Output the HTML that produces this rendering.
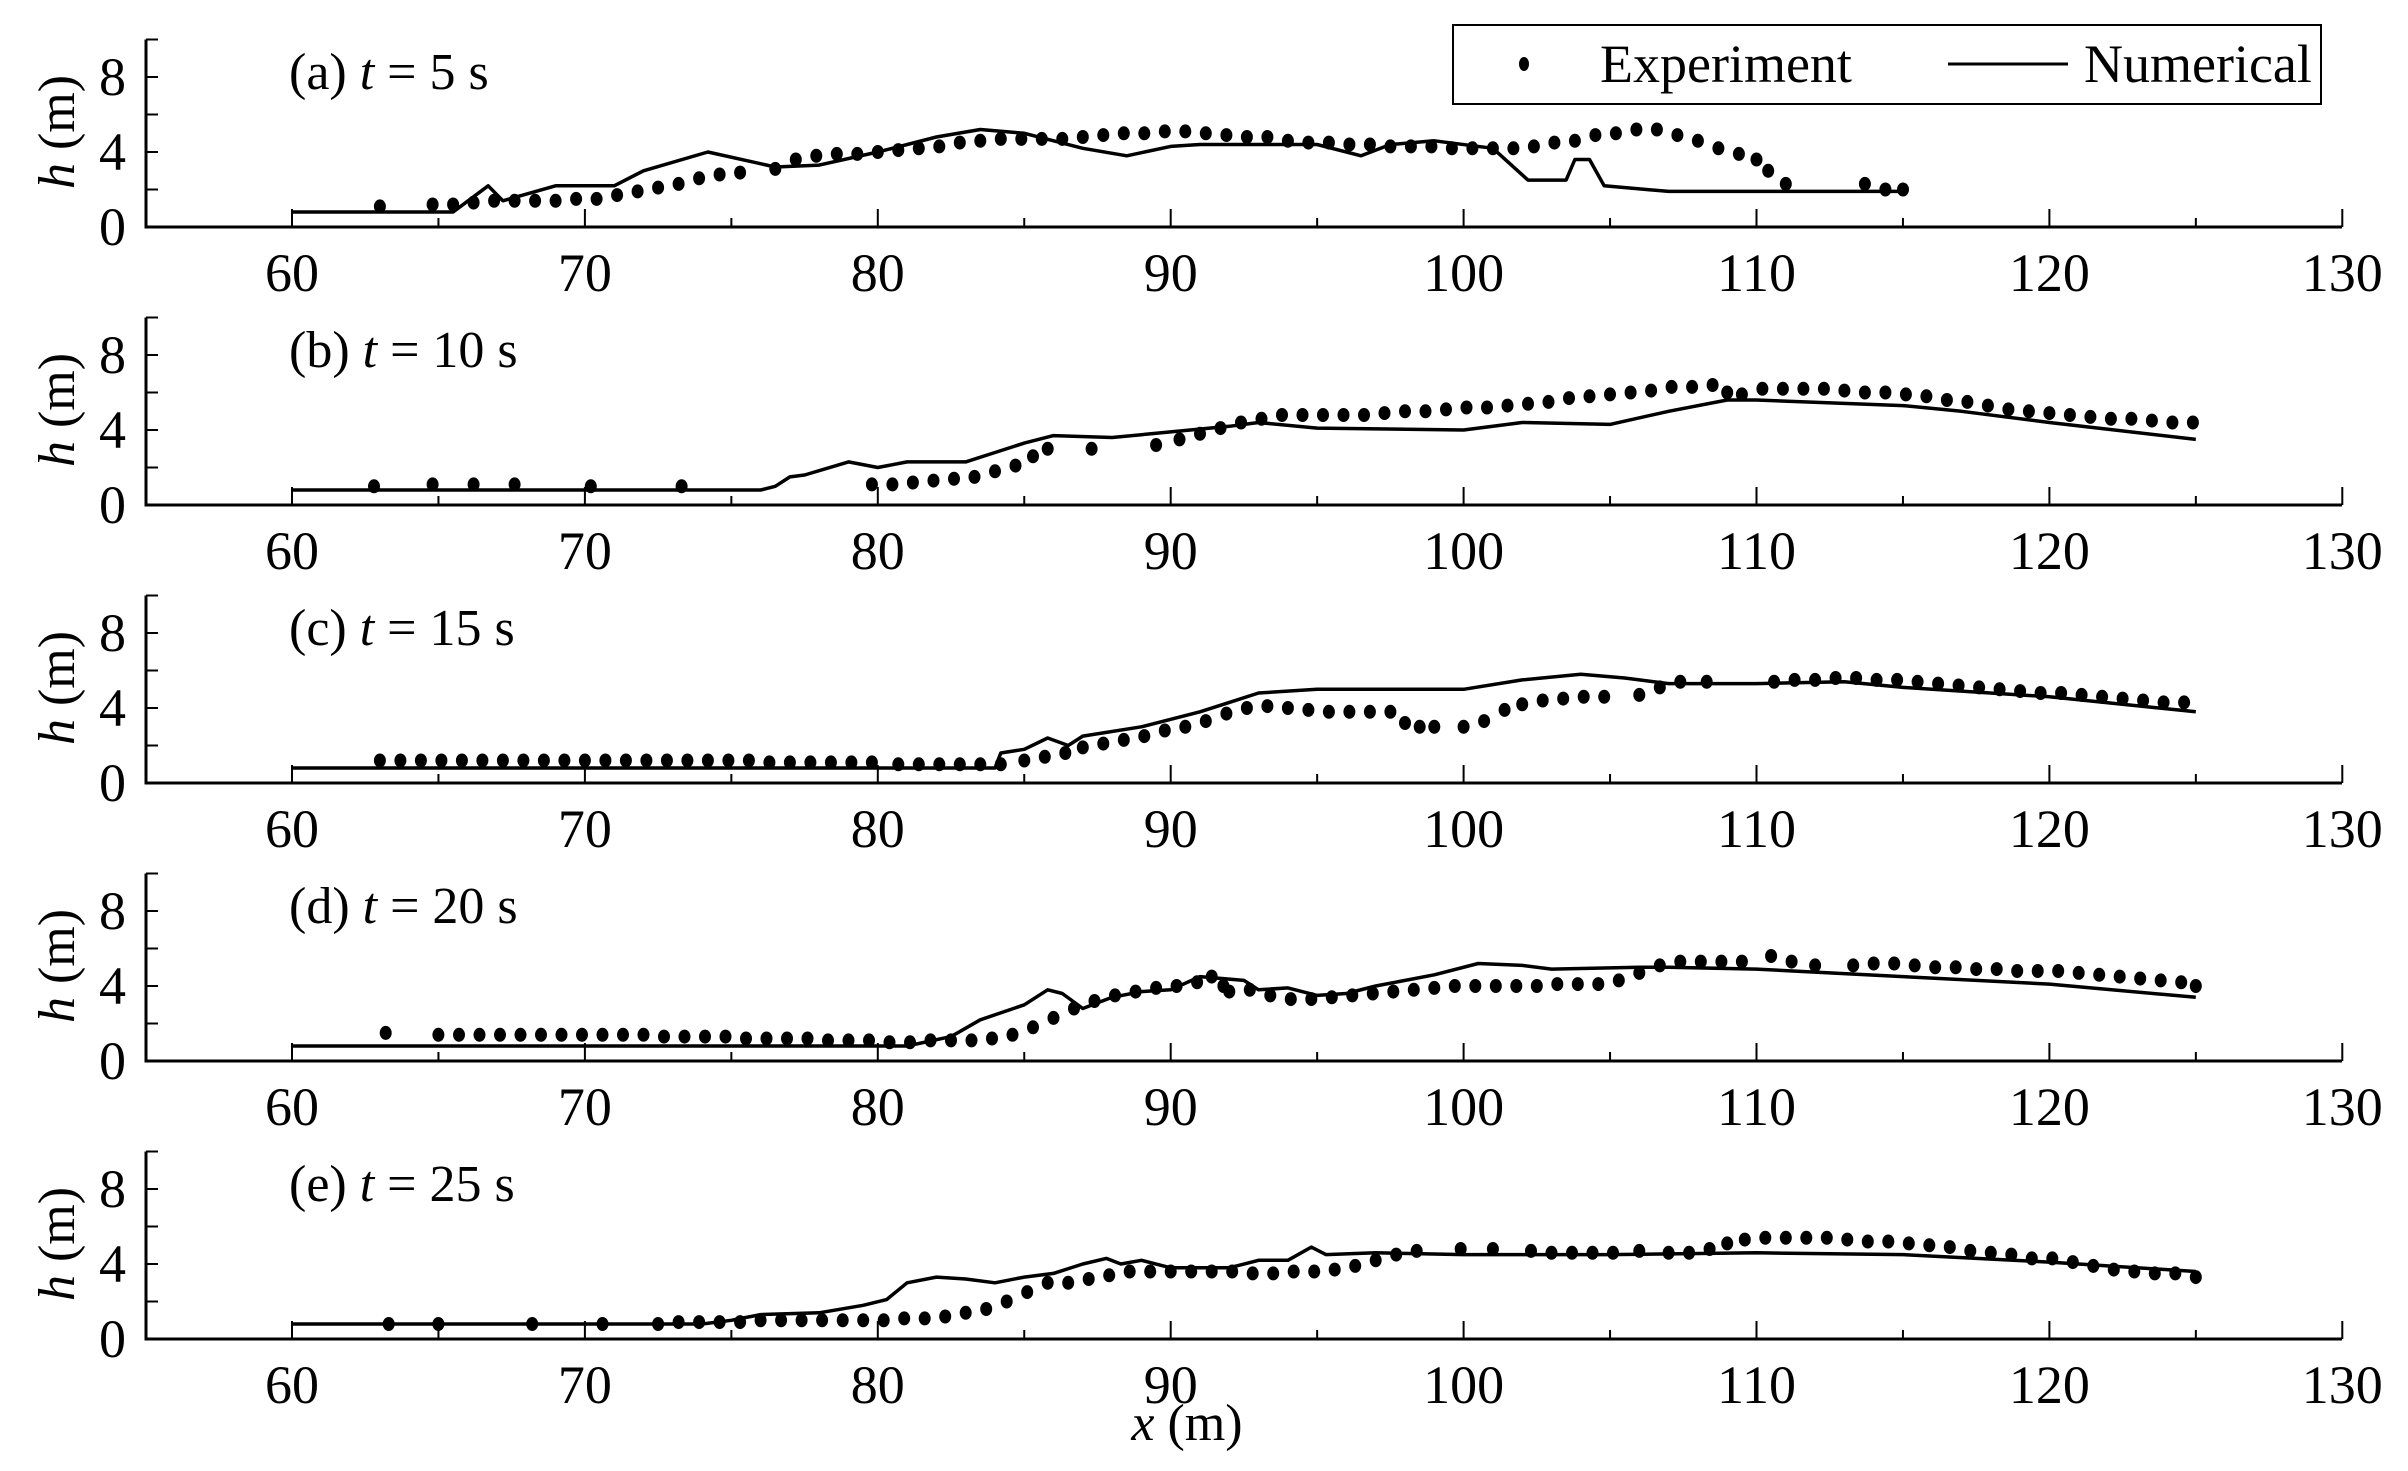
<!DOCTYPE html>
<html><head><meta charset="utf-8"><style>
html,body{margin:0;padding:0;background:#fff;}
svg{display:block;font-family:"Liberation Serif","DejaVu Serif",serif;}
</style></head><body>
<svg id="chart" width="2408" height="1471" viewBox="0 0 2408 1471" xmlns="http://www.w3.org/2000/svg">
<rect width="2408" height="1471" fill="#fff"/>
<g>
<rect x="1453" y="25" width="868" height="79" fill="#fff" stroke="#000" stroke-width="2"/>
<ellipse cx="1524" cy="64" rx="5" ry="7" fill="#000"/>
<text x="1600" y="82" font-size="54">Experiment</text>
<line x1="1948" y1="64" x2="2068" y2="64" stroke="#000" stroke-width="3"/>
<text x="2084" y="82" font-size="54">Numerical</text>
</g>
<text x="1187" y="1440" font-size="52" text-anchor="middle"><tspan font-style="italic">x</tspan> (m)</text>
</svg>
<script>
const panelLabels = ["(a)", "(b)", "(c)", "(d)", "(e)"];
const panelTimes = ["5", "10", "15", "20", "25"];
const xTicks = [60, 70, 80, 90, 100, 110, 120, 130];
const yTicks = [0, 4, 8];

const numA_x = [60,65.5,66.7,67.2,69,71,72,74.2,76.5,78,80,82,83.5,85,87,88.5,90,91,95,96.5,97.5,99,101,102.2,103.5,103.8,104.3,104.8,107,110,115];
const numA_h = [0.8,0.8,2.2,1.4,2.2,2.2,3,4.0,3.2,3.3,4.0,4.8,5.2,5.0,4.2,3.8,4.3,4.4,4.4,3.8,4.4,4.6,4.2,2.5,2.5,3.6,3.6,2.2,1.9,1.9,1.9];
const expA_x = [63,64.8,65.5,66.2,66.9,67.6,68.3,69,69.7,70.4,71.1,71.8,72.5,73.2,73.9,74.6,75.3,76.5,77.2,77.9,78.6,79.3,80,80.7,81.4,82.1,82.8,83.5,84.2,84.9,85.6,86.3,87,87.7,88.4,89.1,89.8,90.5,91.2,91.9,92.6,93.3,94,94.7,95.4,96.1,96.8,97.5,98.2,98.9,99.6,100.3,101,101.7,102.4,103.1,103.8,104.5,105.2,105.9,106.6,107.3,108,108.7,109.4,110,110.4,111,113.7,114.4,115];
const expA_h = [1.1,1.2,1.2,1.3,1.4,1.4,1.4,1.4,1.5,1.5,1.7,1.9,2.1,2.3,2.6,2.8,2.9,3.1,3.6,3.8,3.9,3.9,4.0,4.1,4.2,4.3,4.5,4.6,4.7,4.7,4.7,4.7,4.8,4.9,5.0,5.0,5.1,5.1,5.0,4.9,4.8,4.8,4.6,4.5,4.5,4.4,4.4,4.3,4.3,4.3,4.2,4.2,4.2,4.2,4.3,4.5,4.6,4.9,5.0,5.2,5.2,4.9,4.6,4.2,3.9,3.6,3.0,2.3,2.3,2.0,2.0];

const numB_x = [60,76,76.5,77,77.5,79,80,81,83,84,85,86,88,90,92,93,95,100,102,105,107,109,110,115,117,120,125];
const numB_h = [0.8,0.8,1.0,1.5,1.6,2.3,2.0,2.3,2.3,2.8,3.3,3.7,3.6,3.9,4.2,4.4,4.1,4.0,4.4,4.3,5.0,5.6,5.6,5.3,5.0,4.4,3.5];
const expB_x = [62.8,64.8,66.2,67.6,70.2,73.3,79.8,80.5,81.2,81.9,82.6,83.3,84,84.7,85.3,85.8,87.3,89.5,90.3,91,91.7,92.4,93.1,93.8,94.5,95.2,95.9,96.6,97.3,98,98.7,99.4,100.1,100.8,101.5,102.2,102.9,103.6,104.3,105,105.7,106.4,107.1,107.8,108.5,109,109.5,110.2,110.9,111.6,112.3,113,113.7,114.4,115.1,115.8,116.5,117.2,117.9,118.6,119.3,120,120.7,121.4,122.1,122.8,123.5,124.2,124.9];
const expB_h = [1.0,1.1,1.1,1.1,1.0,1.0,1.1,1.1,1.2,1.3,1.4,1.5,1.8,2.1,2.6,3.0,3.0,3.2,3.5,3.8,4.1,4.4,4.6,4.8,4.8,4.8,4.8,4.8,4.9,5.0,5.0,5.1,5.2,5.2,5.3,5.4,5.5,5.7,5.8,5.9,6.0,6.1,6.3,6.3,6.4,6.0,5.9,6.2,6.2,6.2,6.2,6.1,6.0,6.0,5.9,5.8,5.6,5.5,5.3,5.1,5.0,4.9,4.8,4.7,4.6,4.6,4.5,4.4,4.4];

const numC_x = [60,84,84.2,85,85.8,86.5,87,89,91,92,93,95,100,102,104,105.5,107,110,113,115,120,125];
const numC_h = [0.8,0.8,1.6,1.8,2.4,2.0,2.5,3.0,3.8,4.3,4.8,5.0,5.0,5.5,5.8,5.6,5.3,5.3,5.4,5.1,4.6,3.8];
const expC_x = [63,63.7,64.4,65.1,65.8,66.5,67.2,67.9,68.6,69.3,70,70.7,71.4,72.1,72.8,73.5,74.2,74.9,75.6,76.3,77,77.7,78.4,79.1,79.8,80.7,81.4,82.1,82.8,83.5,84.2,85,85.7,86.4,87,87.7,88.4,89.1,89.8,90.5,91.2,91.9,92.6,93.3,94,94.7,95.4,96.1,96.8,97.5,98,98.5,99,100,100.7,101.4,102,102.7,103.4,104.1,104.8,106,106.7,107.4,108.3,110.6,111.3,112,112.7,113.4,114.1,114.8,115.5,116.2,116.9,117.6,118.3,119,119.7,120.4,121.1,121.8,122.5,123.2,123.9,124.6];
const expC_h = [1.2,1.2,1.2,1.2,1.2,1.2,1.2,1.2,1.2,1.2,1.2,1.2,1.2,1.2,1.2,1.2,1.2,1.2,1.2,1.1,1.1,1.1,1.1,1.1,1.1,1.0,1.0,1.0,1.0,1.0,1.0,1.2,1.4,1.6,1.9,2.1,2.3,2.5,2.8,3.0,3.3,3.7,4.0,4.1,4.0,3.9,3.8,3.8,3.8,3.8,3.2,3.0,3.0,3.0,3.3,3.9,4.2,4.4,4.5,4.6,4.6,4.7,5.1,5.4,5.4,5.4,5.5,5.5,5.6,5.6,5.5,5.5,5.4,5.3,5.2,5.1,5.0,4.9,4.8,4.8,4.7,4.6,4.5,4.4,4.3,4.3];

const numD_x = [60,81,82.5,83.5,85,85.8,86.3,87,88,89,90,91,92.5,93,94,95,96,97,99,100.5,102,103,106,107,110,115,120,125];
const numD_h = [0.8,0.8,1.3,2.2,3.0,3.8,3.6,2.8,3.4,3.7,3.8,4.5,4.3,3.8,3.9,3.5,3.6,4.0,4.6,5.2,5.1,4.9,5.0,5.0,4.9,4.5,4.1,3.4];
const expD_x = [63.2,65,65.7,66.4,67.1,67.8,68.5,69.2,69.9,70.6,71.3,72,72.7,73.4,74.1,74.8,75.5,76.2,76.9,77.6,78.3,79,79.7,80.4,81.1,81.8,82.5,83.2,83.9,84.6,85.3,86,86.7,87.4,88.1,88.8,89.5,90.2,90.9,91.4,91.8,92,92.7,93.4,94.1,94.8,95.5,96.2,96.9,97.6,98.3,99,99.7,100.4,101.1,101.8,102.5,103.2,103.9,104.6,105.3,106,106.7,107.4,108.1,108.8,109.5,110.5,111.2,112,113.3,114,114.7,115.4,116.1,116.8,117.5,118.2,118.9,119.6,120.3,121,121.7,122.4,123.1,123.8,124.5,125];
const expD_h = [1.5,1.4,1.4,1.4,1.4,1.4,1.4,1.4,1.4,1.4,1.4,1.4,1.3,1.3,1.3,1.3,1.2,1.2,1.2,1.2,1.1,1.1,1.1,1.0,1.0,1.1,1.1,1.1,1.2,1.4,1.8,2.3,2.8,3.2,3.5,3.7,3.9,4.0,4.2,4.5,4.0,3.7,3.8,3.5,3.3,3.3,3.4,3.5,3.6,3.7,3.8,3.9,4.0,4.0,4.0,4.0,4.0,4.1,4.1,4.1,4.3,4.7,5.1,5.3,5.3,5.3,5.3,5.6,5.3,5.1,5.1,5.2,5.2,5.1,5.0,5.0,4.9,4.9,4.8,4.8,4.8,4.7,4.6,4.5,4.4,4.3,4.2,4.0];

const numE_x = [60,74,75,76,78,79.5,80.3,81,82,83,84,85,86,87,87.8,88.3,89,90,92,93,94,94.8,95.3,97,100,105,110,115,120,125];
const numE_h = [0.8,0.8,1.0,1.3,1.4,1.8,2.1,3.0,3.3,3.2,3.0,3.3,3.5,4.0,4.3,4.0,4.2,3.8,3.8,4.2,4.2,4.9,4.5,4.6,4.5,4.5,4.6,4.5,4.1,3.6];
const expE_x = [63.3,65,68.2,70.6,72.5,73.2,73.9,74.6,75.3,76,76.7,77.4,78.1,78.8,79.5,80.2,80.9,81.6,82.3,83,83.7,84.4,85.1,85.8,86.5,87.2,87.9,88.6,89.3,90,90.7,91.4,92.1,92.8,93.5,94.2,94.9,95.6,96.3,97,97.7,98.4,99.9,101,102.3,103,103.7,104.4,105.1,106,107,107.7,108.4,109,109.6,110.3,111,111.7,112.4,113.1,113.8,114.5,115.2,115.9,116.6,117.3,118,118.7,119.4,120.1,120.8,121.5,122.2,122.9,123.6,124.3,125];
const expE_h = [0.8,0.8,0.8,0.8,0.8,0.9,0.9,0.9,0.9,1.0,1.0,1.0,1.0,1.0,1.0,1.0,1.1,1.1,1.2,1.4,1.6,2.0,2.5,3.0,3.0,3.2,3.4,3.6,3.6,3.6,3.6,3.6,3.6,3.5,3.5,3.6,3.6,3.7,3.9,4.2,4.5,4.7,4.8,4.8,4.7,4.6,4.6,4.6,4.6,4.7,4.6,4.6,4.8,5.1,5.3,5.4,5.4,5.4,5.4,5.3,5.2,5.2,5.1,5.0,4.9,4.7,4.6,4.5,4.3,4.3,4.1,3.9,3.7,3.6,3.5,3.5,3.3];

const numX = [numA_x, numB_x, numC_x, numD_x, numE_x];
const numH = [numA_h, numB_h, numC_h, numD_h, numE_h];
const expX = [expA_x, expB_x, expC_x, expD_x, expE_x];
const expH = [expA_h, expB_h, expC_h, expD_h, expE_h];

const NS = "http://www.w3.org/2000/svg";
const svg = document.getElementById("chart");
const X0 = 292, XS = 29.29, AXL = 146, AXR = 2342, YS = 18.75;
function xpx(x){ return X0 + (x - 60) * XS; }
function mk(tag, attrs, parent){ const e = document.createElementNS(NS, tag); for (const k in attrs) e.setAttribute(k, attrs[k]); parent.appendChild(e); return e; }

for (let p = 0; p < 5; p++) {
  const y0 = 227 + 278 * p;
  const ypx = h => y0 - h * YS;
  const g = mk("g", {}, svg);
  
  
  const ax = mk("line", {x1: AXL, y1: y0, x2: AXR, y2: y0, stroke: "#000", "stroke-width": 3}, g);
  
  
  const ay = mk("line", {x1: AXL, y1: y0 + 1.5, x2: AXL, y2: ypx(10), stroke: "#000", "stroke-width": 3}, g);
  
  
  for (let v = 2; v <= 10; v += 2) {
    mk("line", {x1: AXL, y1: ypx(v), x2: AXL + 12, y2: ypx(v), stroke: "#000", "stroke-width": 2}, g);
  }
  for (let v = 60; v <= 130; v += 5) {
    const len = v % 10 === 0 ? 18 : 9;
    mk("line", {x1: xpx(v), y1: y0, x2: xpx(v), y2: y0 - len, stroke: "#000", "stroke-width": 2}, g);
  }
  xTicks.forEach(v => {
    const t = mk("text", {x: xpx(v), y: y0 + 64, "font-size": 54, "text-anchor": "middle"}, g);
    t.textContent = v;
    
    
  });
  yTicks.forEach(v => {
    const t = mk("text", {x: 126, y: ypx(v) + 18, "font-size": 54, "text-anchor": "end"}, g);
    t.textContent = v;
    
    
  });
  const yt = mk("text", {x: 0, y: 0, "font-size": 52, "text-anchor": "middle", transform: "translate(74," + (y0 - 95) + ") rotate(-90)"}, g);
  yt.innerHTML = '<tspan font-style="italic">h</tspan> (m)';
  
  
  const pt = mk("text", {x: 289, y: y0 - 138, "font-size": 52}, g);
  pt.innerHTML = panelLabels[p] + ' <tspan font-style="italic">t</tspan> = ' + panelTimes[p] + ' s';
  
  
  let d = "";
  numX[p].forEach((x, i) => { d += (i ? "L" : "M") + xpx(x).toFixed(1) + "," + ypx(numH[p][i]).toFixed(1); });
  const ln = mk("path", {d: d, fill: "none", stroke: "#000", "stroke-width": 3.5, "stroke-linejoin": "round"}, g);
  
  
  expX[p].forEach((x, i) => {
    const c = mk("ellipse", {cx: xpx(x).toFixed(1), cy: ypx(expH[p][i]).toFixed(1), rx: 6, ry: 7, fill: "#000"}, g);
    
    
  });
}
</script>
</body></html>
